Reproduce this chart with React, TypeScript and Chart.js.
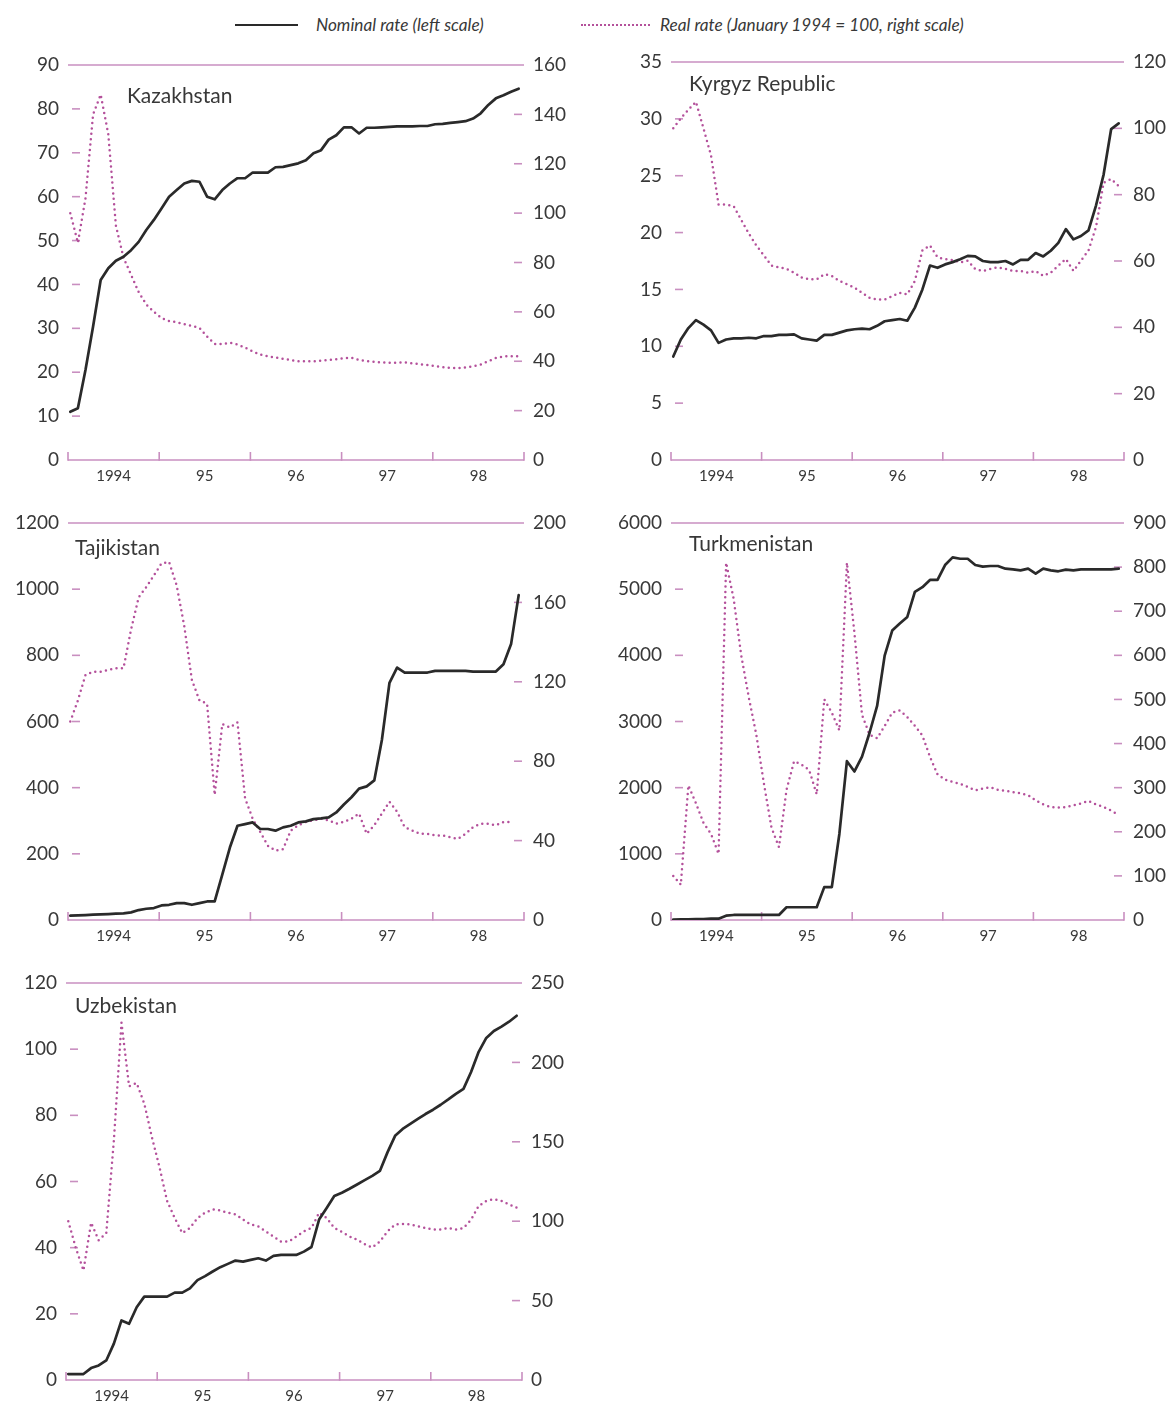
import React, { useEffect, useRef } from 'react';
import { Chart, registerables } from 'chart.js';

Chart.register(...registerables);

// ---------- data ----------
const yearLabels = ['1994', '95', '96', '97', '98'];
const monthsPerYear = 12;

const kazNominal = [
  11, 11.8, 20.5, 30.4, 41, 43.7, 45.4, 46.3, 47.8, 49.7, 52.4, 54.7,
  57.3, 60, 61.5, 63, 63.6, 63.4, 60, 59.4, 61.5, 63, 64.2, 64.2,
  65.5, 65.5, 65.5, 66.7, 66.8, 67.2, 67.6, 68.3, 69.9, 70.6, 73, 74,
  75.8, 75.8, 74.4, 75.7, 75.7, 75.8, 75.9, 76, 76, 76, 76.1, 76.1,
  76.5, 76.6, 76.8, 77, 77.2, 77.8, 79, 80.9, 82.4, 83.1, 83.9, 84.6,
];
const kazReal = [
  100, 88, 106, 140, 148, 132, 95, 82, 75, 68, 63, 60,
  57.5, 56.3, 55.8, 55, 54.3, 53.5, 50, 47, 47, 47.5, 46.8, 45.5,
  44, 42.7, 42, 41.5, 41, 40.5, 40, 40, 40, 40.2, 40.5, 40.8,
  41.2, 41.4, 40.5, 40, 39.8, 39.5, 39.4, 39.4, 39.5, 39.2, 38.8, 38.5,
  38, 37.6, 37.3, 37.2, 37.5, 38, 38.7, 40, 41.3, 42, 42, 42,
];

const kgzNominal = [
  9.1, 10.6, 11.6, 12.3, 11.9, 11.4, 10.3, 10.6, 10.7, 10.7, 10.75, 10.7,
  10.9, 10.9, 11, 11, 11.05, 10.7, 10.6, 10.5, 11, 11, 11.2, 11.4,
  11.5, 11.55, 11.5, 11.8, 12.2, 12.3, 12.4, 12.25, 13.4, 15, 17.1, 16.9,
  17.2, 17.4, 17.65, 17.95, 17.9, 17.5, 17.4, 17.4, 17.5, 17.2, 17.6, 17.6,
  18.2, 17.9, 18.4, 19.1, 20.3, 19.4, 19.7, 20.2, 22.4, 25.1, 29.1, 29.6,
];
const kgzReal = [
  100, 103, 105.6, 108, 100, 91.8, 77, 77, 76.5, 72.4, 68.3, 64.7,
  61.7, 58.6, 58.1, 57.6, 56.5, 55, 54.5, 54.5, 56, 55.5, 54, 53,
  52, 50.4, 48.9, 48.4, 48.4, 49.4, 50.4, 49.9, 54, 63.2, 64.7, 61.1,
  60.6, 60.3, 59.6, 60.1, 57.6, 57, 57.6, 58.1, 57.6, 57, 57, 56.5,
  57, 55.5, 56.5, 58.6, 60.6, 57, 60.1, 63.2, 70.3, 83.6, 84.7, 82.6,
];

const tjkNominal = [
  13, 14, 15, 16, 17, 18, 19, 20, 23, 30, 34, 36,
  44, 46, 51, 51, 46, 51, 56, 56, 137, 219, 285, 290,
  295, 275, 275, 270, 280, 285, 295, 298, 305, 307, 310, 325,
  349, 371, 397, 404, 422, 544, 717, 763, 748, 748, 748, 748,
  753, 753, 753, 753, 753, 751, 751, 751, 751, 773, 834, 982,
];
const tjkReal = [
  100, 110.6, 123.4, 125.1, 125.1, 126, 126.8, 126.8, 146.4, 162.6, 167.7, 173.6,
  179.6, 180.4, 168.5, 148, 120.9, 110.6, 109, 63, 98.7, 97, 99.6, 61.3,
  51, 44.3, 37.4, 34.9, 35.7, 45, 47.7, 49.4, 50.2, 51, 50.2, 48.5,
  49.4, 51, 53.6, 43.4, 47.7, 53.6, 59.6, 54.5, 46.8, 45.1, 43.4, 43.4,
  42.6, 42.6, 41.7, 40.9, 43.4, 46.8, 48.5, 48.5, 47.7, 49.4, 49.4, null,
];

const tkmNominal = [
  5, 10, 10, 15, 15, 20, 20, 66, 76, 76, 76, 76,
  76, 76, 76, 193, 193, 193, 193, 193, 497, 497, 1300, 2400,
  2245, 2470, 2830, 3235, 3995, 4375, 4480, 4580, 4960, 5030, 5140, 5140,
  5365, 5480, 5460, 5460, 5365, 5340, 5350, 5350, 5310, 5300, 5285, 5310,
  5235, 5310, 5285, 5270, 5295, 5285, 5300, 5300, 5300, 5300, 5300, 5310,
];
const tkmReal = [
  100, 80, 305, 265, 220, 195, 150, 810, 728, 600, 505, 420,
  310, 210, 165, 295, 360, 352, 340, 285, 500, 470, 430, 810,
  650, 465, 420, 412, 440, 470, 475, 460, 440, 418, 370, 330,
  318, 313, 309, 302, 294, 298, 301, 295, 293, 290, 287, 283,
  271, 262, 256, 255, 256, 260, 264, 270, 262, 256, 248, 238,
];

const uzbNominal = [
  1.8, 1.8, 1.8, 3.6, 4.4, 5.9, 11, 18, 17, 22, 25.2, 25.2,
  25.2, 25.2, 26.4, 26.4, 27.7, 30.2, 31.4, 32.8, 34.1, 35.1, 36.1, 35.8,
  36.3, 36.8, 36.1, 37.5, 37.8, 37.8, 37.8, 38.8, 40.2, 48.5, 52, 55.6,
  56.6, 57.8, 59.1, 60.4, 61.7, 63.2, 68.8, 73.8, 75.9, 77.4, 78.9, 80.4,
  81.7, 83.2, 84.8, 86.5, 88, 93.1, 99.2, 103.4, 105.5, 106.8, 108.3, 110.1,
];
const uzbReal = [
  100, 83, 69, 99, 88, 92.5, 151, 225, 185, 187, 174, 153,
  134, 112.8, 102, 92.5, 95.7, 102, 105.3, 107.4, 106.8, 105.3, 104.3, 101,
  97.9, 96.8, 93.6, 90.4, 87.2, 87.2, 90.4, 93.6, 95.7, 105.3, 102, 95.7,
  93.2, 90.4, 88.3, 85.5, 83.4, 87.2, 93.6, 97.9, 98.3, 97.9, 96.8, 95.7,
  94.7, 94.7, 95.7, 94.7, 95.7, 101, 109.6, 112.8, 113.8, 112.8, 110.6, 108.5,
];

const legendNominal = 'Nominal rate (left scale)';
const legendReal = 'Real rate (January 1994 = 100, right scale)';

// ---------- styles ----------
const FONT = 'Lato, "Open Sans", "DejaVu Sans", sans-serif';
const TEXT = '#383838';
const AXIS = '#c98fc0';
const NOMINAL = '#2a2a2a';
const REAL = '#b4519b';
const MONTH_OFFSET = 0.3;

type Box = { left: number; top: number; width: number; height: number };
type Area = { left: number; right: number; top: number; bottom: number };

type PanelProps = {
  title: string;
  nominal: (number | null)[];
  real: (number | null)[];
  leftMax: number;
  leftStep: number;
  rightMax: number;
  rightStep: number;
  box: Box;
  area: Area;
  titleX: number;
  titleY: number;
};

const decorPlugin = {
  id: 'decor',
  beforeDatasetsDraw(chart: any) {
    const { ctx, chartArea: a, scales } = chart;
    const yL = scales.yL;
    const yR = scales.yR;
    const x = scales.x;
    const seg = (x1: number, y1: number, x2: number, y2: number) => {
      ctx.beginPath();
      ctx.moveTo(x1, y1);
      ctx.lineTo(x2, y2);
      ctx.stroke();
    };
    ctx.save();
    ctx.strokeStyle = AXIS;
    ctx.lineWidth = 1.6;
    ctx.lineCap = 'butt';
    const yTop = yL.getPixelForValue(yL.max);
    seg(a.left, yTop, a.right, yTop);
    const yBot = yL.getPixelForValue(0);
    seg(a.left, yBot, a.right, yBot);
    for (let k = 0; k <= yearLabels.length; k++) {
      const px = x.getPixelForValue(k * monthsPerYear);
      seg(px, yBot + 0.8, px, yBot - 8);
    }
    yL.ticks.forEach((t: any) => {
      if (t.value > yL.min && t.value < yL.max) {
        const py = yL.getPixelForValue(t.value);
        seg(a.left + 4, py, a.left + 12, py);
      }
    });
    yR.ticks.forEach((t: any) => {
      if (t.value > yR.min && t.value < yR.max) {
        const py = yR.getPixelForValue(t.value);
        seg(a.right - 10, py, a.right - 2, py);
      }
    });
    ctx.restore();
  },
};

function Panel(p: PanelProps) {
  const ref = useRef<HTMLCanvasElement | null>(null);
  useEffect(() => {
    if (!ref.current) return;
    const { box, area } = p;
    const tickFont = { family: FONT, size: 19 };
    const plain = (v: any) => String(v);
    const chart = new Chart(ref.current, {
      type: 'line',
      data: {
        datasets: [
          {
            label: legendNominal,
            data: p.nominal.map((v, i) => ({ x: i + MONTH_OFFSET, y: v })),
            yAxisID: 'yL',
            borderColor: NOMINAL,
            borderWidth: 2.7,
            pointRadius: 0,
            tension: 0,
            borderJoinStyle: 'round',
            borderCapStyle: 'round',
            spanGaps: false,
          },
          {
            label: legendReal,
            data: p.real.map((v, i) => ({ x: i + MONTH_OFFSET, y: v })),
            yAxisID: 'yR',
            borderColor: REAL,
            borderWidth: 2.5,
            borderDash: [0, 5.4],
            borderCapStyle: 'round',
            pointRadius: 0,
            tension: 0,
            spanGaps: false,
          },
        ],
      } as any,
      options: {
        responsive: false,
        animation: false,
        events: [],
        layout: { padding: { top: area.top - box.top, left: 0, right: 0, bottom: 0 } },
        plugins: { legend: { display: false }, tooltip: { enabled: false } },
        scales: {
          x: {
            type: 'linear',
            position: 'bottom',
            min: 0,
            max: yearLabels.length * monthsPerYear,
            grid: { display: false, drawTicks: false },
            border: { display: false },
            afterBuildTicks: (s: any) => {
              s.ticks = yearLabels.map((_, k) => ({ value: k * monthsPerYear + monthsPerYear / 2 }));
            },
            ticks: {
              autoSkip: false,
              maxRotation: 0,
              color: TEXT,
              font: { family: FONT, size: 15 },
              padding: 7,
              callback: (v: any) => yearLabels[Math.round((Number(v) - monthsPerYear / 2) / monthsPerYear)],
            },
            afterFit: (s: any) => {
              s.height = box.top + box.height - area.bottom;
            },
          },
          yL: {
            type: 'linear',
            position: 'left',
            min: 0,
            max: p.leftMax,
            grid: { display: false, drawTicks: false },
            border: { display: false },
            ticks: { stepSize: p.leftStep, autoSkip: false, color: TEXT, font: tickFont, padding: 9, callback: plain },
            afterFit: (s: any) => {
              s.width = area.left - box.left;
            },
          },
          yR: {
            type: 'linear',
            position: 'right',
            min: 0,
            max: p.rightMax,
            grid: { display: false, drawTicks: false },
            border: { display: false },
            ticks: { stepSize: p.rightStep, autoSkip: false, color: TEXT, font: tickFont, padding: 9, callback: plain },
            afterFit: (s: any) => {
              s.width = box.left + box.width - area.right;
            },
          },
        },
      } as any,
      plugins: [decorPlugin],
    });
    return () => chart.destroy();
  }, []);
  return (
    <>
      <canvas
        ref={ref}
        width={p.box.width}
        height={p.box.height}
        style={{ position: 'absolute', left: p.box.left, top: p.box.top, width: p.box.width, height: p.box.height }}
      />
      <div
        style={{
          position: 'absolute',
          left: p.titleX,
          top: p.titleY - 12,
          fontFamily: FONT,
          fontSize: 21,
          lineHeight: '24px',
          color: TEXT,
          whiteSpace: 'nowrap',
        }}
      >
        {p.title}
      </div>
    </>
  );
}

const panels: PanelProps[] = [
  {
    title: 'Kazakhstan', nominal: kazNominal, real: kazReal,
    leftMax: 90, leftStep: 10, rightMax: 160, rightStep: 20,
    box: { left: 0, top: 40, width: 590, height: 455 },
    area: { left: 68, right: 524, top: 65, bottom: 460 },
    titleX: 127, titleY: 95,
  },
  {
    title: 'Kyrgyz Republic', nominal: kgzNominal, real: kgzReal,
    leftMax: 35, leftStep: 5, rightMax: 120, rightStep: 20,
    box: { left: 590, top: 40, width: 580, height: 455 },
    area: { left: 671, right: 1124, top: 62, bottom: 460 },
    titleX: 689, titleY: 83,
  },
  {
    title: 'Tajikistan', nominal: tjkNominal, real: tjkReal,
    leftMax: 1200, leftStep: 200, rightMax: 200, rightStep: 40,
    box: { left: 0, top: 500, width: 590, height: 455 },
    area: { left: 68, right: 524, top: 523, bottom: 920 },
    titleX: 75, titleY: 547,
  },
  {
    title: 'Turkmenistan', nominal: tkmNominal, real: tkmReal,
    leftMax: 6000, leftStep: 1000, rightMax: 900, rightStep: 100,
    box: { left: 590, top: 500, width: 580, height: 455 },
    area: { left: 671, right: 1124, top: 523, bottom: 920 },
    titleX: 689, titleY: 543,
  },
  {
    title: 'Uzbekistan', nominal: uzbNominal, real: uzbReal,
    leftMax: 120, leftStep: 20, rightMax: 250, rightStep: 50,
    box: { left: 0, top: 960, width: 590, height: 443 },
    area: { left: 66, right: 522, top: 983, bottom: 1380 },
    titleX: 75, titleY: 1005,
  },
];

const legendText = {
  position: 'absolute' as const,
  top: 14,
  fontFamily: FONT,
  fontStyle: 'italic',
  fontSize: 17.2,
  lineHeight: '22px',
  color: TEXT,
  whiteSpace: 'nowrap' as const,
};

export default function App() {
  return (
    <div style={{ position: 'absolute', left: 0, top: 0, width: 1170, height: 1403, background: '#fff', overflow: 'hidden' }}>
      {/* legend */}
      <div style={{ position: 'absolute', left: 235, top: 24, width: 63, height: 0, borderTop: `2.5px solid ${NOMINAL}` }} />
      <div style={{ ...legendText, left: 316 }}>{legendNominal}</div>
      <div style={{ position: 'absolute', left: 581, top: 24, width: 69, height: 0, borderTop: `2px dotted ${REAL}` }} />
      <div style={{ ...legendText, left: 660 }}>{legendReal}</div>
      {panels.map((p) => (
        <Panel key={p.title} {...p} />
      ))}
    </div>
  );
}
